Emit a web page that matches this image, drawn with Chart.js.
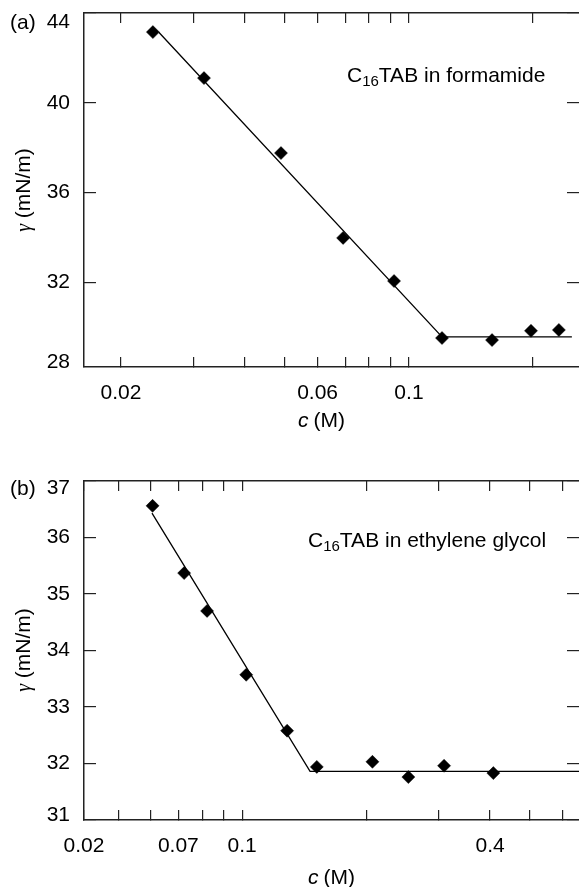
<!DOCTYPE html>
<html>
<head>
<meta charset="utf-8">
<script src="https://cdn.jsdelivr.net/npm/chart.js@4.4.0/dist/chart.umd.min.js"></script>
<style>
  body { margin: 0; background: #fff; }
  canvas { position: absolute; left: 0; }
</style>
</head>
<body>
<canvas id="chartA" width="579" height="440" style="top:0"></canvas>
<canvas id="chartB" width="579" height="447" style="top:440px"></canvas>
<script>
// (a) C16TAB in formamide
const concA = [0.0239, 0.0318, 0.0489, 0.0692, 0.0920, 0.1203, 0.1591, 0.1978, 0.2312];
const gammaA = [43.15, 41.10, 37.76, 33.98, 32.06, 29.52, 29.43, 29.84, 29.88];
const fitConcA = [0.0247, 0.1203, 0.2486];
const fitGammaA = [43.14, 29.57, 29.57];
const xRangeA = [0.01626, 0.2587];
const yRangeA = [28.23, 44];
const xTicksA = [0.02, 0.03, 0.04, 0.05, 0.06, 0.07, 0.08, 0.09, 0.1, 0.2];
const xTickLabelsA = ['0.02', '', '', '', '0.06', '', '', '', '0.1', ''];
const yTicksA = [28, 32, 36, 40, 44];

// (b) C16TAB in ethylene glycol
const concB = [0.0606, 0.0723, 0.0822, 0.1023, 0.1286, 0.1518, 0.2072, 0.2533, 0.3093, 0.4074];
const gammaB = [36.56, 35.37, 34.70, 33.57, 32.58, 31.94, 32.03, 31.76, 31.96, 31.83];
const fitConcB = [0.0604, 0.1462, 0.6577];
const fitGammaB = [36.43, 31.86, 31.86];
const xRangeB = [0.0413, 0.6577];
const yRangeB = [31, 37];
const xTicksB = [0.0413, 0.05, 0.06, 0.07, 0.08, 0.09, 0.1, 0.2, 0.3, 0.4, 0.5, 0.6];
const xTickLabelsB = ['0.02', '', '', '0.07', '', '', '0.1', '', '', '0.4', '', ''];
const yTicksB = [31, 32, 33, 34, 35, 36, 37];

const SANS = '"Liberation Sans", Arial, sans-serif';
const AXIS = '#222';

const panelText = {
  id: 'panelText',
  afterDraw(chart, args, o) {
    const ctx = chart.ctx;
    const ys = chart.scales.y;
    ctx.save();
    ctx.fillStyle = '#000';

    // y tick labels (end labels kept inside the frame)
    ctx.font = '21px ' + SANS;
    ctx.textAlign = 'right';
    ctx.textBaseline = 'middle';
    o.yTicks.forEach(v => {
      let py = ys.getPixelForValue(v);
      py = Math.min(Math.max(py, ys.top + o.topShift), ys.bottom - 5);
      ctx.fillText(String(v), ys.left + 70, py);
    });

    ctx.textAlign = 'left';
    ctx.textBaseline = 'alphabetic';
    ctx.fillText(o.tag, 10, o.tagY);

    // x title: c (M)
    ctx.font = 'italic 21px ' + SANS;
    ctx.fillText('c', o.xTitle[0], o.xTitle[1]);
    const wc = ctx.measureText('c').width;
    ctx.font = '21px ' + SANS;
    ctx.fillText('(M)', o.xTitle[0] + wc + 5, o.xTitle[1]);

    // annotation with subscript
    let x = o.note[0];
    const by = o.note[1];
    ctx.fillText('C', x, by);
    x += ctx.measureText('C').width;
    ctx.font = '15px ' + SANS;
    ctx.fillText('16', x, by + 4);
    x += ctx.measureText('16').width;
    ctx.font = '21px ' + SANS;
    ctx.fillText(o.noteText, x, by);

    // y title: gamma (mN/m), rotated
    ctx.translate(30, o.yTitleY);
    ctx.rotate(-Math.PI / 2);
    ctx.font = 'italic 20px "Liberation Serif", serif';
    const gw = ctx.measureText('\u03b3').width;
    ctx.font = '21px ' + SANS;
    const rw = ctx.measureText(' (mN/m)').width;
    const start = -(gw + rw) / 2;
    ctx.font = 'italic 20px "Liberation Serif", serif';
    ctx.fillText('\u03b3', start, 0);
    ctx.font = '21px ' + SANS;
    ctx.fillText(' (mN/m)', start + gw, 0);
    ctx.restore();
  }
};

// fixed axis sizes, no extra room for overhanging labels
function fixSize(s, w, h) {
  if (w !== null) s.width = w;
  if (h !== null) s.height = h;
  s.paddingLeft = 0; s.paddingRight = 0; s.paddingTop = 0; s.paddingBottom = 0;
}

function makePanel(id, d) {
  const xAxis = (pos, h, labelled) => ({
    type: 'logarithmic',
    position: pos,
    min: d.xRange[0],
    max: d.xRange[1],
    afterFit: s => fixSize(s, null, h),
    afterBuildTicks: s => { s.ticks = d.xTicks.map(v => ({ value: v })); },
    ticks: {
      autoSkip: false,
      maxRotation: 0,
      padding: 24,
      color: '#000',
      font: { family: SANS, size: 21 },
      callback: (v, i) => labelled ? d.xTickLabels[i] : ''
    },
    grid: { drawOnChartArea: false, tickLength: -10, color: AXIS, lineWidth: 1.2 },
    border: { display: true, color: AXIS, width: 1.5 }
  });
  const yAxis = (pos, w, showBorder) => ({
    type: 'linear',
    position: pos,
    min: d.yRange[0],
    max: d.yRange[1],
    afterFit: s => fixSize(s, w, null),
    afterBuildTicks: s => {
      s.ticks = d.yTicks.filter(v => v >= d.yRange[0] && v <= d.yRange[1]).map(v => ({ value: v }));
    },
    ticks: { display: false },
    grid: { drawOnChartArea: false, tickLength: -12, color: AXIS, lineWidth: 1.2 },
    border: { display: showBorder, color: AXIS, width: 1.5 }
  });

  return new Chart(document.getElementById(id), {
    type: 'scatter',
    data: {
      datasets: [
        {
          label: 'fit',
          data: d.fitConc.map((c, i) => ({ x: c, y: d.fitGamma[i] })),
          showLine: true,
          borderColor: '#000',
          borderWidth: 1.3,
          pointRadius: 0,
          fill: false
        },
        {
          label: 'data',
          data: d.conc.map((c, i) => ({ x: c, y: d.gamma[i] })),
          pointStyle: 'rectRot',
          pointRadius: 6.5,
          backgroundColor: '#000',
          borderColor: '#000',
          borderWidth: 0.5
        }
      ]
    },
    options: {
      responsive: false,
      animation: false,
      devicePixelRatio: 1,
      layout: { padding: 0, autoPadding: false },
      plugins: {
        legend: { display: false },
        tooltip: { enabled: false },
        panelText: d.text
      },
      scales: {
        x: xAxis('bottom', d.bottomH, true),
        x2: xAxis('top', d.topH, false),
        y: yAxis('left', 84, true),
        y2: yAxis('right', 0, false)
      }
    },
    plugins: [panelText]
  });
}

makePanel('chartA', {
  conc: concA, gamma: gammaA, fitConc: fitConcA, fitGamma: fitGammaA,
  xRange: xRangeA, yRange: yRangeA, xTicks: xTicksA, xTickLabels: xTickLabelsA, yTicks: yTicksA,
  topH: 13, bottomH: 73,
  text: { yTicks: yTicksA, topShift: 9, tag: '(a)', tagY: 29, xTitle: [298, 427],
          note: [347, 82], noteText: 'TAB in formamide', yTitleY: 190 }
});

makePanel('chartB', {
  conc: concB, gamma: gammaB, fitConc: fitConcB, fitGamma: fitGammaB,
  xRange: xRangeB, yRange: yRangeB, xTicks: xTicksB, xTickLabels: xTickLabelsB, yTicks: yTicksB,
  topH: 41, bottomH: 67,
  text: { yTicks: yTicksB, topShift: 7, tag: '(b)', tagY: 55, xTitle: [308, 444],
          note: [308, 107], noteText: 'TAB in ethylene glycol', yTitleY: 210 }
});
</script>
</body>
</html>
